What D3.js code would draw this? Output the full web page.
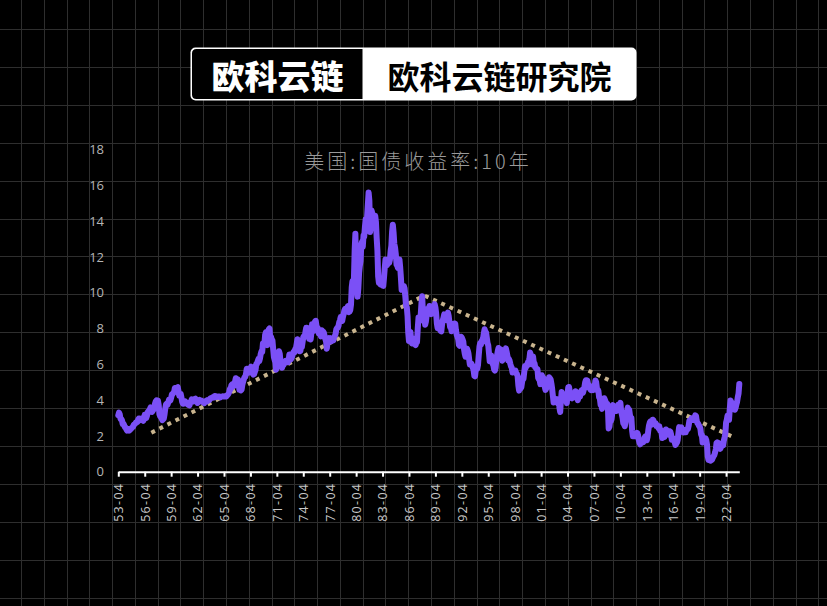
<!DOCTYPE html>
<html>
<head>
<meta charset="utf-8">
<script src="https://cdn.jsdelivr.net/npm/d3@7"></script>
<style>
  html, body { margin: 0; padding: 0; background: #000; }
  svg { display: block; }
</style>
</head>
<body>
<svg id="chart" width="827" height="606"></svg>
<script>
// ---------------- DATA ----------------
const brandLeft = "欧科云链";
const brandRight = "欧科云链研究院";
const chartTitle = "美国:国债收益率:10年";
const firstMonth = "1953-04";   // first monthly observation
const yTicks = [0, 2, 4, 6, 8, 10, 12, 14, 16, 18];
const xTickLabels = ["53-04","56-04","59-04","62-04","65-04","68-04","71-04","74-04","77-04","80-04",
  "83-04","86-04","89-04","92-04","95-04","98-04","01-04","04-04","07-04","10-04","13-04","16-04","19-04","22-04"];
// monthly 10-year yield, 1953-04 .. 2023-10
const yields = [
  3.15,3.30,3.20,2.95,2.95,2.87,2.66,2.68,2.59,
  2.48,2.47,2.37,2.29,2.37,2.38,2.30,2.36,2.38,2.43,2.48,2.51,
  2.61,2.65,2.68,2.75,2.76,2.78,2.90,2.97,2.97,2.88,2.89,2.96,
  2.90,2.84,2.96,3.18,3.07,3.00,3.11,3.33,3.38,3.34,3.49,3.59,
  3.46,3.34,3.41,3.48,3.60,3.80,3.93,3.98,3.92,3.97,3.72,3.21,
  3.09,3.05,2.98,2.88,2.92,2.97,3.20,3.54,3.76,3.80,3.74,3.86,
  4.02,3.96,3.99,4.12,4.31,4.34,4.40,4.43,4.68,4.53,4.53,4.69,
  4.72,4.49,4.25,4.28,4.35,4.15,3.90,3.80,3.80,3.89,3.93,3.84,
  3.84,3.78,3.74,3.78,3.71,3.88,3.92,4.04,3.98,3.92,3.94,4.06,
  4.08,4.04,3.93,3.84,3.87,3.91,4.01,3.98,3.98,3.93,3.92,3.86,
  3.83,3.92,3.93,3.97,3.93,3.99,4.02,4.00,4.08,4.11,4.12,4.13,
  4.17,4.15,4.22,4.23,4.20,4.17,4.19,4.19,4.20,4.19,4.15,4.18,
  4.19,4.21,4.21,4.20,4.21,4.21,4.20,4.25,4.29,4.35,4.45,4.62,
  4.61,4.83,4.87,4.75,4.78,4.81,5.02,5.22,5.18,5.01,5.16,4.84,
  4.58,4.63,4.54,4.59,4.85,5.02,5.16,5.28,5.30,5.48,5.75,5.70,
  5.53,5.56,5.74,5.64,5.87,5.72,5.50,5.42,5.46,5.58,5.70,6.03,
  6.04,6.19,6.30,6.17,6.32,6.57,6.72,6.69,7.16,7.10,7.14,7.65,
  7.79,7.24,7.07,7.39,7.95,8.00,7.46,7.53,7.39,7.33,6.84,6.39,
  6.24,6.11,5.70,5.83,6.39,6.52,6.73,6.58,6.14,5.93,5.81,5.93,
  5.95,6.08,6.07,6.19,6.13,6.11,6.11,6.21,6.55,6.48,6.28,6.36,
  6.46,6.64,6.71,6.67,6.85,6.90,7.13,7.40,7.09,6.79,6.73,6.74,
  6.99,6.96,7.21,7.51,7.58,7.54,7.81,8.04,8.04,7.90,7.68,7.43,
  7.50,7.39,7.73,8.23,8.06,7.86,8.06,8.40,8.43,8.14,8.05,8.00,
  7.74,7.79,7.73,7.56,7.90,7.86,7.83,7.77,7.59,7.41,7.29,6.87,
  7.21,7.39,7.46,7.37,7.46,7.28,7.33,7.40,7.34,7.52,7.58,7.69,
  7.96,8.03,8.04,8.15,8.35,8.46,8.64,8.41,8.42,8.64,8.81,9.01,
  9.10,9.10,9.12,9.18,9.25,8.91,8.95,9.03,9.33,10.30,10.65,10.39,
  10.80,12.41,13.30,11.47,10.18,9.78,10.25,11.10,11.51,11.75,12.68,12.84,
  12.57,13.19,13.12,13.68,14.10,13.47,14.28,14.94,15.60,15.15,13.39,13.72,
  14.59,14.43,13.86,13.87,13.62,14.30,13.95,13.06,12.34,10.91,10.55,10.54,
  10.46,10.72,10.51,10.40,10.38,10.85,11.38,11.85,11.65,11.54,11.69,11.83,
  11.67,11.84,12.32,12.63,13.41,13.80,13.36,12.72,12.52,12.16,11.57,11.50,
  11.38,11.51,11.86,11.43,10.85,10.16,10.31,10.33,10.37,10.24,9.78,9.26,
  9.19,8.70,7.78,7.30,7.71,7.80,7.30,7.17,7.45,7.43,7.25,7.11,
  7.08,7.25,7.25,8.02,8.61,8.40,8.45,8.76,9.42,9.80,8.86,8.99,
  8.67,8.21,8.37,8.72,9.09,8.92,9.06,9.26,8.98,8.80,8.96,9.11,
  9.09,9.17,9.36,9.18,8.86,8.28,8.02,8.11,8.19,8.01,7.87,7.84,
  8.21,8.47,8.59,8.79,8.76,8.48,8.47,8.75,8.89,8.72,8.39,8.08,
  8.09,7.85,8.11,8.04,8.07,8.28,8.27,7.90,7.65,7.53,7.42,7.09,
  7.03,7.34,7.54,7.48,7.39,7.26,6.84,6.59,6.42,6.59,6.87,6.77,
  6.60,6.26,5.98,5.97,6.04,5.96,5.81,5.68,5.36,5.33,5.72,5.77,
  5.75,5.97,6.48,6.97,7.18,7.10,7.30,7.24,7.46,7.74,7.96,7.81,
  7.78,7.47,7.20,7.06,6.63,6.17,6.28,6.49,6.20,6.04,5.93,5.71,
  5.65,5.81,6.27,6.51,6.74,6.91,6.87,6.64,6.83,6.53,6.20,6.30,
  6.58,6.42,6.69,6.89,6.71,6.49,6.22,6.30,6.21,6.03,5.88,5.81,
  5.54,5.57,5.65,5.64,5.65,5.50,5.46,5.34,4.81,4.53,4.83,4.65,
  4.72,5.00,5.23,5.18,5.54,5.90,5.79,5.94,5.92,6.11,6.03,6.28,
  6.66,6.52,6.26,5.99,6.44,6.10,6.05,5.83,5.80,5.74,5.72,5.24,
  5.16,5.10,4.89,5.14,5.39,5.28,5.24,4.97,4.73,4.57,4.65,5.09,
  5.04,4.91,5.28,5.21,5.16,4.93,4.65,4.26,3.87,3.94,4.05,4.03,
  4.05,3.90,3.81,3.96,3.57,3.33,3.98,4.45,4.27,4.29,4.30,4.27,
  4.15,4.08,3.83,4.35,4.72,4.73,4.50,4.28,4.13,4.10,4.19,4.23,
  4.22,4.17,4.50,4.34,4.14,4.00,4.18,4.26,4.20,4.46,4.54,4.47,
  4.42,4.57,4.72,4.99,5.11,5.11,5.09,4.88,4.72,4.73,4.60,4.56,
  4.76,4.72,4.56,4.69,4.75,5.10,5.00,4.67,4.52,4.53,4.15,4.10,
  3.74,3.74,3.51,3.68,3.88,4.10,4.01,3.89,3.69,3.81,3.53,2.42,
  2.52,2.87,2.82,2.93,3.29,3.72,3.56,3.59,3.40,3.39,3.40,3.59,
  3.73,3.69,3.73,3.85,3.42,3.20,3.01,2.70,2.65,2.54,2.76,3.29,
  3.39,3.58,3.41,3.46,3.17,3.00,3.00,2.30,1.98,2.15,2.01,1.98,
  1.97,1.97,2.17,2.05,1.80,1.62,1.53,1.68,1.72,1.75,1.65,1.72,
  1.91,1.98,1.96,1.76,1.93,2.30,2.58,2.74,2.81,2.62,2.72,2.90,
  2.86,2.71,2.72,2.71,2.56,2.60,2.54,2.42,2.53,2.30,2.33,2.21,
  1.88,1.98,2.04,1.94,2.20,2.36,2.32,2.17,2.17,2.07,2.26,2.24,
  2.09,1.78,1.89,1.81,1.81,1.64,1.50,1.56,1.63,1.76,2.14,2.49,
  2.43,2.42,2.48,2.30,2.30,2.19,2.32,2.21,2.20,2.36,2.35,2.40,
  2.58,2.86,2.84,2.87,2.98,2.91,2.89,2.89,3.00,3.15,3.12,2.83,
  2.71,2.68,2.57,2.53,2.40,2.07,2.06,1.63,1.70,1.71,1.81,1.86,
  1.76,1.50,0.87,0.66,0.67,0.73,0.62,0.65,0.68,0.79,0.87,0.93,
  1.08,1.26,1.61,1.64,1.62,1.52,1.32,1.28,1.37,1.58,1.56,1.47,
  1.76,1.93,2.13,2.75,2.90,3.14,2.90,2.90,3.52,3.98,3.89,3.62,
  3.53,3.75,3.66,3.46,3.57,3.75,3.90,4.17,4.38,4.90
];
// dotted trend annotation: [month, value]
const trendMonths = ["1957-01", "1988-01", "2022-11"];
const trendValues = [2.18, 9.84, 1.99];

// ---------------- LAYOUT ----------------
const W = 827, H = 606;
const svg = d3.select("#chart");
const parseMonth = d3.timeParse("%Y-%m");
const start = parseMonth(firstMonth);
const series = yields.map((v, i) => ({ date: d3.timeMonth.offset(start, i), value: v }));
const trend = trendMonths.map((m, i) => ({ date: parseMonth(m), value: trendValues[i] }));

// background
svg.append("rect").attr("width", W).attr("height", H).attr("fill", "#000");
const bg = svg.append("g").attr("stroke", "#2e2e2e").attr("stroke-width", 1);
d3.range(21, W, 22.78).forEach(x => bg.append("line").attr("x1", Math.round(x) + 0.5).attr("x2", Math.round(x) + 0.5).attr("y1", 0).attr("y2", H));
d3.range(29, H, 37.9).forEach(y => bg.append("line").attr("y1", Math.round(y) + 0.5).attr("y2", Math.round(y) + 0.5).attr("x1", 0).attr("x2", W));

// banner
const bx = 190.5, by = 47.5, bw = 446, bh = 53, split = 172;
svg.append("rect").attr("x", bx).attr("y", by).attr("width", bw).attr("height", bh)
  .attr("rx", 5).attr("fill", "#fff");
svg.append("path")
  .attr("d", `M${bx + split},${by + 1.5} H${bx + 6} Q${bx + 1.5},${by + 1.5} ${bx + 1.5},${by + 6} V${by + bh - 6} Q${bx + 1.5},${by + bh - 1.5} ${bx + 6},${by + bh - 1.5} H${bx + split} Z`)
  .attr("fill", "#000");
svg.append("text").attr("x", bx + split / 2 + 1).attr("y", by + bh / 2 + 1)
  .attr("text-anchor", "middle").attr("dominant-baseline", "central")
  .attr("font-family", "'Noto Sans CJK SC'").attr("font-weight", 900).attr("font-size", 33)
  .attr("fill", "#fff").text(brandLeft);
svg.append("text").attr("x", bx + split + (bw - split) / 2 + 0).attr("y", by + bh / 2 + 1)
  .attr("text-anchor", "middle").attr("dominant-baseline", "central")
  .attr("font-family", "'Noto Sans CJK SC'").attr("font-weight", 700).attr("font-size", 32)
  .attr("fill", "#000").text(brandRight);

// scales
const x = d3.scaleTime().domain([start, series[series.length - 1].date]).range([118.3, 739.3]);
const y = d3.scaleLinear().domain([0, 18]).range([471.7, 149.5]);

// chart title
svg.append("text").attr("x", 418).attr("y", 160)
  .attr("text-anchor", "middle").attr("dominant-baseline", "central")
  .attr("font-family", "'Noto Sans CJK SC'").attr("font-weight", 300).attr("font-size", 20)
  .attr("letter-spacing", 3).attr("fill", "#9a9a9a").text(chartTitle);

// y axis labels
const yAxis = svg.append("g").attr("transform", "translate(104,0)")
  .call(d3.axisLeft(y).tickValues(yTicks).tickSize(0).tickPadding(0).tickFormat(d3.format("d")));
yAxis.select(".domain").remove();
yAxis.selectAll("text").attr("font-family", "'Open Sans', 'Noto Sans'").attr("font-size", 13)
  .attr("fill", "#b5b5b5");

// x axis
const tickDates = xTickLabels.map(s => {
  const yy = +s.slice(0, 2);
  return parseMonth((yy > 40 ? 1900 + yy : 2000 + yy) + "-" + s.slice(3));
});
const xAxis = svg.append("g").attr("transform", "translate(0,471.7)")
  .call(d3.axisBottom(x).tickValues(tickDates).tickSize(5).tickSizeOuter(0)
    .tickFormat(d3.timeFormat("%y-%m")));
xAxis.select(".domain").attr("stroke", "#fff").attr("stroke-width", 2);
xAxis.selectAll(".tick line").attr("stroke", "#fff").attr("stroke-width", 2);
xAxis.selectAll(".tick text")
  .attr("transform", "rotate(-90)")
  .attr("x", -11).attr("y", 0).attr("dy", "0.35em")
  .attr("text-anchor", "end")
  .attr("font-family", "'Open Sans', 'Noto Sans'").attr("font-size", 12.5)
  .attr("letter-spacing", 1.3).attr("fill", "#c8c8c8");

// trend dotted line
svg.append("path").datum(trend)
  .attr("d", d3.line().x(d => x(d.date)).y(d => y(d.value)))
  .attr("fill", "none").attr("stroke", "#c9b48e").attr("stroke-width", 4)
  .attr("stroke-dasharray", "4,5");

// main line
svg.append("path").datum(series)
  .attr("d", d3.line().x(d => x(d.date)).y(d => y(d.value)))
  .attr("fill", "none").attr("stroke", "#7b50f6").attr("stroke-width", 6)
  .attr("stroke-linejoin", "round").attr("stroke-linecap", "round");
</script>
</body>
</html>
